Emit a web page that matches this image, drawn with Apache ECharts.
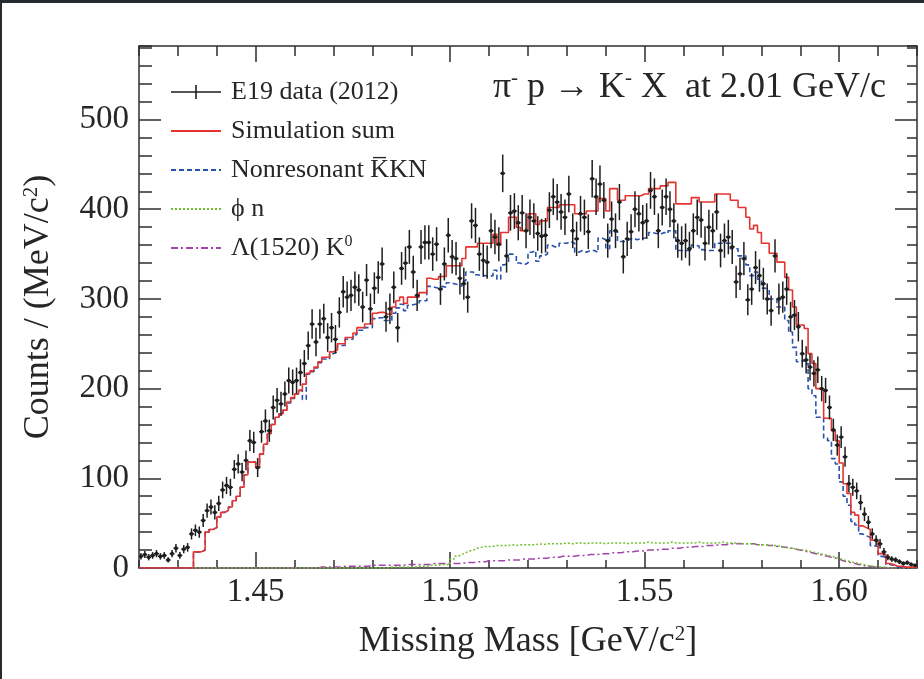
<!DOCTYPE html>
<html>
<head>
<meta charset="utf-8">
<script src="https://cdn.jsdelivr.net/npm/echarts@6/dist/echarts.min.js"></script>
<style>
  html, body { margin: 0; padding: 0; background: #ffffff; }
  #chart { position: absolute; left: 0; top: 0; width: 924px; height: 679px; }
  #bt { position: absolute; left: 0; top: 0; width: 924px; height: 3px; background: #262b32; }
  #bl { position: absolute; left: 0; top: 0; width: 2px; height: 679px; background: #262b32; }
</style>
</head>
<body>
<div id="chart"></div>
<div id="bt"></div>
<div id="bl"></div>
<script>
// ---- binning (1 MeV/c^2 bins from 1.420 GeV/c^2) ----
const binStart = 1.420;
const binWidth = 0.001;

// ---- tick labels ----
const xMajorTicks = [1.45, 1.50, 1.55, 1.60];
const yMajorTicks = [0, 100, 200, 300, 400, 500];

// ---- E19 data (2012): counts per bin ----
const dataCounts = [
  13, 15, 12, 14, 16, 13, 14, 9, 16, 22,
  14, 21, 23, 38, 42, 40, 53, 64, 68, 62,
  72, 87, 92, 90, 110, 116, 107, 120, 142, 140,
  112, 152, 164, 153, 179, 187, 183, 194, 209, 207,
  209, 218, 228, 248, 272, 252, 272, 278, 257, 268,
  255, 285, 308, 302, 304, 313, 310, 291, 321, 289,
  312, 324, 339, 280, 289, 313, 268, 334, 340, 358,
  330, 304, 358, 363, 363, 350, 361, 311, 339, 371,
  347, 345, 323, 317, 302, 387, 382, 350, 343, 341,
  376, 369, 361, 440, 348, 396, 398, 385, 396, 376,
  391, 387, 373, 370, 371, 399, 414, 408, 397, 391,
  417, 376, 367, 395, 391, 375, 434, 414, 428, 410,
  365, 389, 376, 408, 347, 367, 375, 400, 395, 385,
  387, 421, 414, 376, 402, 414, 400, 387, 365, 362,
  365, 356, 376, 391, 388, 362, 380, 376, 397, 354,
  365, 369, 358, 319, 328, 345, 299, 311, 335, 326,
  317, 300, 287, 348, 300, 302, 311, 280, 282, 269,
  239, 232, 224, 217, 221, 200, 198, 179, 154, 137,
  146, 124, 94, 90, 86, 73, 60, 51, 38, 31,
  27, 18, 12, 10, 9, 7, 5, 6, 4, 3
];

// ---- Simulation sum ----
const simSum = [
  0, 0, 0, 0, 0, 0, 0, 0, 0, 0,
  0, 0, 0, 0, 18, 18, 20, 40, 43, 45,
  57, 62, 64, 68, 75, 80, 90, 104, 118, 118,
  112, 127, 138, 150, 160, 168, 172, 176, 185, 190,
  194, 198, 205, 217, 220, 224, 230, 235, 235, 241,
  243, 250, 250, 257, 257, 262, 268, 268, 272, 272,
  284, 285, 285, 283, 283, 291, 298, 302, 295, 302,
  302, 302, 307, 307, 323, 322, 322, 325, 325, 337,
  337, 337, 337, 345, 358, 358, 358, 362, 362, 362,
  362, 372, 360, 374, 374, 391, 391, 380, 376, 376,
  395, 395, 383, 387, 387, 402, 402, 402, 405, 405,
  405, 405, 395, 395, 395, 398, 398, 398, 412, 412,
  398, 423, 423, 410, 410, 415, 415, 415, 415, 417,
  417, 423, 423, 423, 426, 426, 430, 430, 406, 406,
  406, 406, 413, 413, 408, 408, 408, 408, 417, 417,
  417, 417, 410, 410, 402, 402, 391, 378, 382, 374,
  362, 362, 351, 351, 341, 341, 324, 310, 291, 271,
  271, 267, 239, 228, 200, 198, 167, 167, 153, 142,
  117, 94, 83, 62, 59, 47, 45, 43, 31, 30,
  16, 15, 5, 4, 2, 2, 1, 1, 1, 0
];

// ---- Nonresonant KbarKN ----
const nonresKKN = [
  0, 0, 0, 0, 0, 0, 0, 0, 0, 0,
  0, 0, 0, 0, 18, 18, 20, 40, 43, 45,
  57, 62, 64, 68, 75, 80, 90, 104, 118, 118,
  112, 127, 138, 150, 160, 168, 172, 176, 184, 189,
  194, 198, 188, 216, 219, 223, 229, 233, 233, 239,
  241, 248, 248, 255, 255, 260, 265, 265, 268, 268,
  278, 279, 279, 276, 276, 284, 290, 294, 287, 293,
  294, 294, 298, 298, 314, 313, 312, 314, 313, 318,
  317, 316, 314, 320, 330, 330, 327, 326, 326, 325,
  326, 332, 322, 338, 340, 350, 348, 340, 338, 340,
  352, 354, 342, 348, 350, 360, 358, 358, 362, 362,
  364, 362, 352, 354, 352, 354, 354, 352, 368, 366,
  356, 376, 376, 364, 364, 366, 368, 366, 367, 368,
  368, 374, 373, 372, 374, 373, 376, 376, 354, 354,
  354, 354, 360, 359, 355, 354, 354, 354, 362, 362,
  362, 362, 356, 356, 348, 348, 338, 326, 330, 322,
  312, 310, 300, 300, 291, 291, 276, 263, 246, 230,
  232, 228, 200, 192, 168, 168, 145, 142, 122, 116,
  96, 80, 70, 52, 48, 38, 36, 34, 25, 24,
  13, 12, 4, 3, 1, 1, 1, 0, 0, 0
];

// ---- phi n ----
const phiN = [
  0, 0, 0, 0, 0, 0, 0, 0, 0, 0,
  0, 0, 0, 0, 0, 0, 0, 0, 0, 0,
  0, 0, 0, 0, 0, 0, 0, 0, 0, 0,
  0, 0, 0, 0, 0, 0, 0, 0, 0, 0,
  0, 0, 0, 0, 0, 0, 0, 0, 0, 0,
  0, 0, 0, 0, 0, 0, 0, 0, 0, 0,
  0, 0, 0, 0, 1, 1, 1, 1, 1, 1,
  1, 2, 2, 2, 3, 3, 3, 4, 4, 4,
  10, 13, 15, 17, 19, 20, 22, 23, 24, 24,
  24, 25, 25, 25, 25, 26, 25, 26, 26, 26,
  26, 26, 27, 26, 27, 27, 27, 27, 27, 28,
  27, 27, 28, 28, 27, 28, 28, 28, 28, 27,
  28, 28, 28, 28, 28, 27, 28, 28, 28, 28,
  29, 28, 28, 28, 28, 28, 29, 28, 28, 28,
  28, 28, 28, 29, 28, 28, 28, 28, 28, 29,
  28, 28, 28, 28, 27, 27, 27, 27, 26, 26,
  26, 25, 25, 25, 24, 23, 22, 22, 21, 20,
  20, 19, 18, 17, 16, 15, 14, 13, 12, 11,
  9, 8, 7, 6, 5, 4, 3, 2, 2, 1,
  1, 1, 0, 0, 0, 0, 0, 0, 0, 0
];

// ---- Lambda(1520) K0 ----
const lambdaK0 = [
  0, 0, 0, 0, 0, 0, 0, 0, 0, 0,
  0, 0, 0, 0, 0, 0, 0, 0, 0, 0,
  0, 0, 0, 0, 0, 0, 0, 0, 0, 0,
  0, 0, 0, 0, 0, 0, 0, 0, 0, 0,
  0, 0, 0, 0, 0, 0, 1, 1, 1, 1,
  1, 1, 2, 2, 2, 2, 2, 2, 2, 3,
  3, 3, 3, 3, 3, 3, 3, 3, 4, 4,
  4, 4, 4, 4, 4, 5, 5, 5, 5, 5,
  5, 5, 5, 6, 6, 6, 7, 7, 7, 8,
  8, 8, 8, 8, 9, 9, 9, 9, 10, 10,
  10, 10, 11, 11, 11, 12, 12, 12, 13, 13,
  13, 13, 14, 14, 14, 15, 15, 15, 16, 16,
  16, 17, 17, 17, 18, 18, 18, 19, 19, 19,
  20, 20, 20, 21, 21, 21, 22, 22, 22, 23,
  23, 23, 24, 24, 24, 25, 25, 25, 26, 26,
  26, 27, 27, 27, 27, 27, 27, 27, 26, 26,
  26, 25, 25, 24, 24, 23, 23, 22, 21, 20,
  19, 18, 17, 16, 15, 14, 13, 12, 11, 10,
  8, 7, 6, 5, 4, 3, 2, 2, 1, 1,
  0, 0, 0, 0, 0, 0, 0, 0, 0, 0
];

const FONT = "'Liberation Serif', 'Times New Roman', 'DejaVu Serif', serif";
const INK = '#262626';
const FRAME = '#2e2e2e';

function edge(k) { return +(binStart + binWidth * k).toFixed(4); }
function histPoints(arr) {
  const pts = arr.map((v, k) => [edge(k), v]);
  pts.push([edge(arr.length), arr[arr.length - 1]]);
  return pts;
}
const dataPoints = dataCounts.map((v, i) => [+(binStart + binWidth * (i + 0.5)).toFixed(4), v, Math.sqrt(v)]);

const NAME_DATA = 'E19 data (2012)';
const NAME_SUM = 'Simulation sum';
const NAME_KKN = 'Nonresonant K\u0305KN';
const NAME_PHI = '\u03D5 n';
const NAME_LAM = '\u039B(1520) K0';

const chart = echarts.init(document.getElementById('chart'), null, { renderer: 'canvas' });

const xMin = 1.42, xMax = 1.62, yMin = 0, yMax = 582;
const tickLine = { color: FRAME, width: 1.5 };
const noSymbol = { opacity: 0 };

const option = {
  backgroundColor: '#ffffff',
  animation: false,
  title: {
    text: '{n|\u03C0}{s|-}{n| p \u2192 K}{s|-}{n| X  at 2.01 GeV/c}',
    right: 38,
    top: 68,
    padding: 0,
    textStyle: {
      fontFamily: FONT, fontSize: 36, fontWeight: 'normal', color: INK,
      rich: {
        n: { fontFamily: FONT, fontSize: 36, color: INK, lineHeight: 40 },
        s: { fontFamily: FONT, fontSize: 21, color: INK, verticalAlign: 'top', lineHeight: 21 }
      }
    }
  },
  legend: {
    orient: 'vertical',
    left: 170,
    top: 78,
    padding: 0,
    itemWidth: 50,
    itemHeight: 14,
    itemGap: 11,
    selectedMode: false,
    data: [
      { name: NAME_DATA, icon: 'path://M0,6.2H50V7.8H0Z M24.2,0H25.8V14H24.2Z' },
      { name: NAME_SUM, itemStyle: noSymbol },
      { name: NAME_KKN, itemStyle: noSymbol },
      { name: NAME_PHI, itemStyle: noSymbol },
      { name: NAME_LAM, itemStyle: noSymbol }
    ],
    formatter: function (name) {
      if (name === NAME_LAM) return '\u039B(1520) K{sup|0}';
      return name;
    },
    textStyle: {
      fontFamily: FONT, fontSize: 26, color: INK, lineHeight: 28, padding: [0, 0, 0, 5],
      rich: {
        sup: { fontFamily: FONT, fontSize: 16, color: INK, verticalAlign: 'top', lineHeight: 16 }
      }
    }
  },
  grid: { left: 139, right: 7, top: 46, bottom: 111, containLabel: false },
  xAxis: [
    {
      type: 'value', min: xMin, max: xMax, position: 'bottom',
      axisLine: { show: true, onZero: false, lineStyle: tickLine },
      axisTick: { show: true, inside: true, length: 16, customValues: xMajorTicks, lineStyle: tickLine },
      axisLabel: {
        show: true, customValues: xMajorTicks, margin: 8,
        formatter: function (v) { return Number(v).toFixed(2); },
        fontFamily: FONT, fontSize: 33, color: INK
      },
      splitLine: { show: false },
      name: 'Missing Mass [GeV/c{sup|2}]',
      nameLocation: 'middle', nameGap: 56,
      nameTextStyle: {
        fontFamily: FONT, fontSize: 36, color: INK,
        rich: { sup: { fontFamily: FONT, fontSize: 21, color: INK, verticalAlign: 'top', lineHeight: 21 } }
      }
    },
    {
      type: 'value', min: xMin, max: xMax, interval: 0.01, position: 'bottom',
      axisLine: { show: false, onZero: false },
      axisTick: { show: true, inside: true, length: 8, lineStyle: tickLine },
      axisLabel: { show: false }, splitLine: { show: false }
    },
    {
      type: 'value', min: xMin, max: xMax, position: 'top',
      axisLine: { show: true, onZero: false, lineStyle: tickLine },
      axisTick: { show: true, inside: true, length: 16, customValues: xMajorTicks, lineStyle: tickLine },
      axisLabel: { show: false }, splitLine: { show: false }
    },
    {
      type: 'value', min: xMin, max: xMax, interval: 0.01, position: 'top',
      axisLine: { show: false, onZero: false },
      axisTick: { show: true, inside: true, length: 10, lineStyle: tickLine },
      axisLabel: { show: false }, splitLine: { show: false }
    }
  ],
  yAxis: [
    {
      type: 'value', min: yMin, max: yMax, interval: 100, position: 'left',
      axisLine: { show: true, onZero: false, lineStyle: tickLine },
      axisTick: { show: true, inside: true, length: 22, customValues: yMajorTicks, lineStyle: tickLine },
      axisLabel: {
        show: true, customValues: yMajorTicks, margin: 10,
        fontFamily: FONT, fontSize: 33, color: INK
      },
      splitLine: { show: false },
      name: 'Counts / (MeV/c{sup|2})',
      nameLocation: 'middle', nameGap: 82, nameRotate: 90,
      nameTextStyle: {
        fontFamily: FONT, fontSize: 36, color: INK,
        rich: { sup: { fontFamily: FONT, fontSize: 21, color: INK, verticalAlign: 'top', lineHeight: 21 } }
      }
    },
    {
      type: 'value', min: yMin, max: yMax, interval: 20, position: 'left',
      axisLine: { show: false, onZero: false },
      axisTick: { show: true, inside: true, length: 13, lineStyle: tickLine },
      axisLabel: { show: false }, splitLine: { show: false }
    },
    {
      type: 'value', min: yMin, max: yMax, position: 'right',
      axisLine: { show: true, onZero: false, lineStyle: tickLine },
      axisTick: { show: true, inside: true, length: 22, customValues: yMajorTicks, lineStyle: tickLine },
      axisLabel: { show: false }, splitLine: { show: false }
    },
    {
      type: 'value', min: yMin, max: yMax, interval: 20, position: 'right',
      axisLine: { show: false, onZero: false },
      axisTick: { show: true, inside: true, length: 10, lineStyle: tickLine },
      axisLabel: { show: false }, splitLine: { show: false }
    }
  ],
  series: [
    {
      name: NAME_LAM, type: 'line', step: 'end', symbol: 'none', z: 2,
      data: histPoints(lambdaK0),
      itemStyle: { color: '#a445ab' },
      lineStyle: { color: '#a445ab', width: 1.5, type: [7, 3, 2, 3] }
    },
    {
      name: NAME_PHI, type: 'line', step: 'end', symbol: 'none', z: 2,
      data: histPoints(phiN),
      itemStyle: { color: '#6fbe2e' },
      lineStyle: { color: '#6fbe2e', width: 1.5, type: [2, 2] }
    },
    {
      name: NAME_KKN, type: 'line', step: 'end', symbol: 'none', z: 3,
      data: histPoints(nonresKKN),
      itemStyle: { color: '#2a52ad' },
      lineStyle: { color: '#2a52ad', width: 1.6, type: [5, 3] }
    },
    {
      name: NAME_SUM, type: 'line', step: 'end', symbol: 'none', z: 4,
      data: histPoints(simSum),
      itemStyle: { color: '#e5342f' },
      lineStyle: { color: '#e5342f', width: 1.6 }
    },
    {
      name: NAME_DATA, type: 'custom', z: 6, clip: true,
      itemStyle: { color: '#1e1e1e' },
      data: dataPoints,
      renderItem: function (params, api) {
        const x = api.value(0), y = api.value(1), e = api.value(2);
        const c = api.coord([x, y]);
        const lo = api.coord([x, y - e]);
        const hi = api.coord([x, y + e]);
        const l = api.coord([x - binWidth / 2, y]);
        const r = api.coord([x + binWidth / 2, y]);
        const st = { stroke: '#1e1e1e', lineWidth: 1.5 };
        return {
          type: 'group',
          children: [
            { type: 'line', shape: { x1: lo[0], y1: lo[1], x2: hi[0], y2: hi[1] }, style: st },
            { type: 'line', shape: { x1: l[0] - 0.5, y1: l[1], x2: r[0] + 0.5, y2: r[1] }, style: st },
            { type: 'circle', shape: { cx: c[0], cy: c[1], r: 1.9 }, style: { fill: '#1e1e1e' } }
          ]
        };
      }
    }
  ]
};
chart.setOption(option);
</script>
</body>
</html>
